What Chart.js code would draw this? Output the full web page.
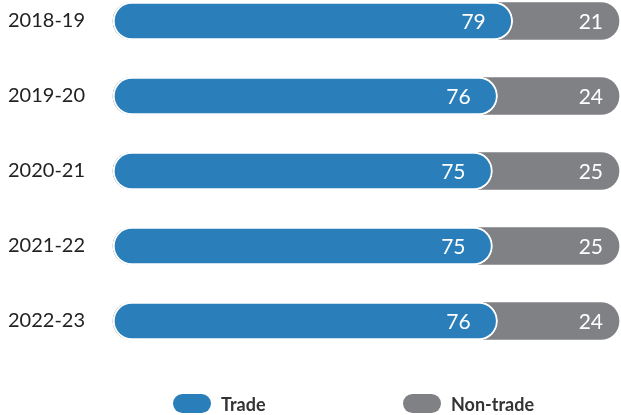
<!DOCTYPE html>
<html>
<head>
<meta charset="utf-8">
<script src="https://cdn.jsdelivr.net/npm/chart.js@4/dist/chart.umd.min.js"></script>
<style>
  html, body { margin: 0; padding: 0; background: #fff; }
  #wrap { position: relative; width: 621px; height: 415px; }
  #legend { position: absolute; left: 0; top: 394px; width: 621px; height: 19px; font-family: Lato, sans-serif; }
  .item { position: absolute; top: 0; display: flex; align-items: center; height: 19px; }
  .pill { width: 38px; height: 19px; border-radius: 10px; margin-right: 10px; }
  .item span { font-weight: bold; font-size: 18px; color: #333; }
</style>
</head>
<body>
<div id="wrap">
  <canvas id="chart" width="621" height="415"></canvas>
  <div id="legend"></div>
</div>
<script>
// data
const years = ['2018-19', '2019-20', '2020-21', '2021-22', '2022-23'];
const trade = [79, 76, 75, 75, 76];
const nonTrade = [21, 24, 25, 25, 24];

const blue = '#2a7fba';
const grey = '#808185';
const round = { topLeft: 19, bottomLeft: 19, topRight: 19, bottomRight: 19 };

// draw the numbers near the right end of each segment
const valueLabels = {
  id: 'valueLabels',
  afterDatasetsDraw(chart) {
    const ctx = chart.ctx;
    ctx.save();
    ctx.font = '21px Lato, sans-serif';
    ctx.fillStyle = '#fff';
    ctx.textAlign = 'right';
    ctx.textBaseline = 'middle';
    chart.data.datasets.forEach((ds, i) => {
      const pad = i === 0 ? 27 : 16;
      chart.getDatasetMeta(i).data.forEach((bar, j) => {
        ctx.fillText(ds.data[j], bar.x - pad, bar.y + 1);
      });
    });
    ctx.restore();
  }
};

const chart = new Chart(document.getElementById('chart'), {
  type: 'bar',
  data: {
    labels: years,
    datasets: [
      {
        label: 'Trade',
        data: trade,
        backgroundColor: blue,
        borderColor: '#fff',
        borderWidth: 2,
        borderSkipped: false,
        borderRadius: round,
        barThickness: 38,
        clip: false
      },
      {
        label: 'Non-trade',
        data: nonTrade,
        backgroundColor: grey,
        borderWidth: 0,
        borderSkipped: false,
        borderRadius: round,
        barThickness: 37,
        base: 0, // run grey from the axis so it sits behind the rounded blue end
        clip: false
      }
    ]
  },
  options: {
    indexAxis: 'y',
    responsive: false,
    animation: false,
    layout: { padding: { left: 8, right: 2, top: 21, bottom: 94 } },
    plugins: { legend: { display: false }, tooltip: { enabled: false } },
    scales: {
      x: { stacked: true, min: 0, max: 100, display: false },
      y: {
        stacked: true,
        offset: false,
        grid: { display: false },
        border: { display: false },
        ticks: {
          crossAlign: 'far',
          padding: 0,
          color: '#222',
          font: { family: 'Lato', size: 20 }
        },
        afterFit(scale) { scale.width = 105; }
      }
    }
  },
  plugins: [valueLabels]
});

// legend
const legend = document.getElementById('legend');
const legendX = [173, 403];
chart.data.datasets.forEach((ds, i) => {
  const item = document.createElement('div');
  item.className = 'item';
  item.style.left = legendX[i] + 'px';
  item.innerHTML = `<div class="pill" style="background:${ds.backgroundColor}"></div><span>${ds.label}</span>`;
  legend.appendChild(item);
});
</script>
</body>
</html>
